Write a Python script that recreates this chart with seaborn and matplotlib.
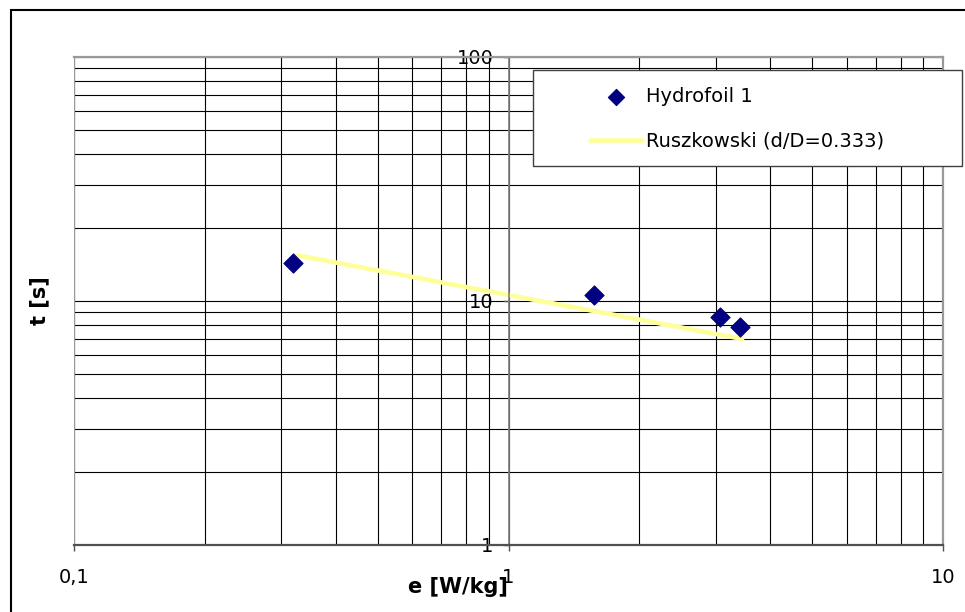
import matplotlib
matplotlib.use("Agg")
import numpy as np
import pandas as pd
import seaborn as sns
from matplotlib import pyplot as plt
from matplotlib.patches import Rectangle
from matplotlib.lines import Line2D
from matplotlib.ticker import NullFormatter

# measured points (Hydrofoil 1)
e_points = [0.319, 1.57, 3.07, 3.41]
t_points = [14.3, 10.6, 8.6, 7.8]

# Ruszkowski correlation (d/D=0.333)
e_line = [0.326, 1.57, 3.07, 3.45]
t_line = [15.4, 9.1, 7.27, 6.99]

x_ticks = [0.1, 1, 10]
x_tick_labels = ['0,1', '1', '10']
y_ticks = [1, 10, 100]
y_tick_labels = ['1', '10', '100']

sns.set_style("white")
plt.rcParams['font.family'] = ['DejaVu Sans']
plt.rcParams['text.color'] = 'black'
plt.rcParams['axes.labelcolor'] = 'black'
plt.rcParams['xtick.labelcolor'] = 'black'
plt.rcParams['ytick.labelcolor'] = 'black'

fig = plt.figure(figsize=(9.65, 6.12), dpi=100)
ax = fig.add_axes([74/965, 1-545/612, 869/965, 488/612])

sns.lineplot(x=e_line, y=t_line, color='#FFFF99', lw=3.3, label='Ruszkowski (d/D=0.333)', ax=ax, zorder=2)
sns.scatterplot(x=e_points, y=t_points, marker='D', s=95, color='#000080', edgecolor='#000080',
                label='Hydrofoil 1', ax=ax, zorder=3)

ax.set_xscale('log')
ax.set_yscale('log')
ax.set_xlim(0.1, 10)
ax.set_ylim(1, 100)
ax.set_xticks(x_ticks, labels=x_tick_labels)
ax.set_yticks(y_ticks, labels=y_tick_labels)
ax.xaxis.set_minor_formatter(NullFormatter())
ax.yaxis.set_minor_formatter(NullFormatter())

ax.grid(which='both', color='black', lw=0.8)
ax.set_axisbelow(True)

# y axis crosses at x = 1
ax.spines['left'].set_position(('data', 1))
ax.spines['left'].set_color('#808080')
ax.spines['left'].set_linewidth(1.2)
ax.spines['top'].set_color('#999999')
ax.spines['right'].set_color('#999999')
ax.spines['top'].set_linewidth(1.6)
ax.spines['right'].set_linewidth(1.6)
ax.spines['bottom'].set_color('#505050')
ax.spines['bottom'].set_linewidth(1.6)
ax.add_line(Line2D([0, 0], [0, 1], transform=ax.transAxes, color='#999999', lw=1.6, zorder=2.5))

ax.tick_params(which='major', direction='out', length=4.3, width=1, color='#505050',
               labelcolor='black', labelsize=14)
ax.tick_params(which='minor', length=0)
ax.tick_params(axis='x', pad=12.5, bottom=True)
ax.tick_params(axis='y', pad=6.5, left=True)

ax.set_xlabel('e [W/kg]', fontsize=15, fontweight='bold', color='black')
ax.xaxis.set_label_coords(0.442, -0.066)
ax.set_ylabel('t [s]', fontsize=15, fontweight='bold', color='black')
ax.yaxis.set_label_coords(-0.028, 0.5)

# legend
handles, labels = ax.get_legend_handles_labels()
if ax.get_legend() is not None:
    ax.get_legend().remove()
order = [labels.index('Hydrofoil 1'), labels.index('Ruszkowski (d/D=0.333)')]
fig.add_artist(Rectangle((533/965, 1-166/612), 429/965, 96/612, transform=fig.transFigure,
                         fc='white', ec='#404040', lw=1, zorder=3))
leg = fig.legend([handles[i] for i in order], [labels[i] for i in order], loc='upper left',
                 bbox_to_anchor=(590/965, 1-87/612), bbox_transform=fig.transFigure,
                 frameon=False, borderpad=0, borderaxespad=0, handlelength=2.65,
                 handletextpad=0.25, labelspacing=1.32, fontsize=14, markerscale=0.85)
for txt in leg.get_texts():
    txt.set_color('black')

# outer chart frame
fig.add_artist(Rectangle((11/965, -0.5), 2, 0.5 + 1 - 10/612, transform=fig.transFigure,
                         fill=False, ec='black', lw=1.5, zorder=0))

fig.savefig('out.png', dpi=100)
